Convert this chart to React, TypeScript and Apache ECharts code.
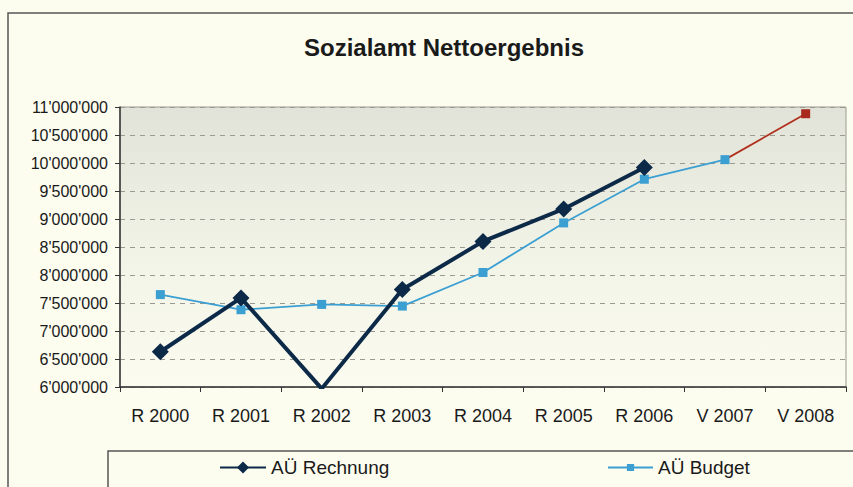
import React, { useEffect, useRef } from "react";
import * as echarts from "echarts";

const categories = ["R 2000", "R 2001", "R 2002", "R 2003", "R 2004", "R 2005", "R 2006", "V 2007", "V 2008"];
const rechnung = [6630000, 7590000, 5970000, 7740000, 8600000, 9180000, 9920000, null, null];
const budget = [7650000, 7380000, 7475000, 7445000, 8045000, 8930000, 9710000, 10060000, null];
const forecast = [null, null, null, null, null, null, null, 10060000, 10880000];
const legendRechnung = "AÜ Rechnung";
const legendBudget = "AÜ Budget";
const title = "Sozialamt Nettoergebnis";

const fmt = (v: number) => String(v).replace(/\B(?=(\d{3})+(?!\d))/g, "'");

export default function App() {
  const ref = useRef<HTMLDivElement>(null);
  useEffect(() => {
    if (!ref.current) return;
    const chart = echarts.init(ref.current, null, { renderer: "svg" });
    const font = "'Liberation Sans', Arial, sans-serif";
    chart.setOption({
      animation: false,
      backgroundColor: "#fcfcef",
      textStyle: { fontFamily: font },
      title: {
        text: title,
        left: 439,
        textAlign: "center",
        top: 30,
        textStyle: { fontFamily: font, fontSize: 24, fontWeight: "bold", color: "#1a1a1a" },
      },
      graphic: [
        {
          type: "rect",
          shape: { x: 8, y: 13, width: 900, height: 520 },
          style: { fill: "none", stroke: "#555", lineWidth: 1.5 },
          silent: true,
          z: -1,
        },
        {
          type: "rect",
          shape: { x: 108, y: 451, width: 800, height: 60 },
          style: { fill: "none", stroke: "#555", lineWidth: 1.5 },
          silent: true,
        },
      ],
      legend: [
        {
          data: [legendRechnung],
          left: 219,
          top: 458,
          padding: 0,
          itemWidth: 46,
          itemHeight: 15,
          textStyle: { fontFamily: font, fontSize: 19, color: "#1a1a1a" },
        },
        {
          data: [legendBudget],
          left: 607,
          top: 458,
          padding: 0,
          itemWidth: 45,
          itemHeight: 9,
          textStyle: { fontFamily: font, fontSize: 19, color: "#1a1a1a" },
        },
      ],
      grid: {
        left: 120,
        right: 7,
        top: 107,
        bottom: 100,
        show: true,
        borderColor: "#9a9a92",
        borderWidth: 1,
        backgroundColor: new echarts.graphic.LinearGradient(0, 0, 0, 1, [
          { offset: 0, color: "#e2e3d8" },
          { offset: 0.55, color: "#f3f4e8" },
          { offset: 1, color: "#fbfbef" },
        ]),
      },
      xAxis: {
        type: "category",
        data: categories,
        boundaryGap: true,
        axisLine: { lineStyle: { color: "#333", width: 1.5 } },
        axisTick: { show: true, length: 5, inside: false, lineStyle: { color: "#333" } },
        axisLabel: { margin: 20, fontSize: 18, color: "#1a1a1a", fontFamily: font },
        splitLine: { show: false },
      },
      yAxis: {
        type: "value",
        min: 6000000,
        max: 11000000,
        interval: 500000,
        axisLine: { show: true, lineStyle: { color: "#333", width: 1.5 } },
        axisTick: { show: true, length: 5, lineStyle: { color: "#333" } },
        axisLabel: { margin: 12, fontSize: 16, color: "#1a1a1a", fontFamily: font, formatter: (v: number) => fmt(v) },
        splitLine: { show: true, lineStyle: { color: "#9a9a92", type: [5, 5], width: 1 } },
      },
      series: [
        {
          name: legendBudget,
          type: "line",
          data: budget,
          symbol: "rect",
          symbolSize: 9,
          color: "#3b9fd2",
          lineStyle: { color: "#3b9fd2", width: 1.8 },
          itemStyle: { color: "#3b9fd2" },
          z: 2,
        },
        {
          name: "V",
          type: "line",
          data: forecast.map((v, i) => (i === 7 ? { value: v, symbol: "none" } : v)),
          symbol: "rect",
          symbolSize: 9,
          color: "#b0301e",
          lineStyle: { color: "#b0301e", width: 1.8 },
          itemStyle: { color: "#a82a1e" },
          z: 1,
        },
        {
          name: legendRechnung,
          type: "line",
          data: rechnung,
          symbol: "diamond",
          symbolSize: 17,
          color: "#0c2a48",
          lineStyle: { color: "#0c2a48", width: 4 },
          itemStyle: { color: "#0c2a48" },
          z: 3,
        },
      ],
    });
    return () => chart.dispose();
  }, []);
  return <div ref={ref} style={{ position: "fixed", left: 0, top: 0, width: 853, height: 487 }} />;
}
